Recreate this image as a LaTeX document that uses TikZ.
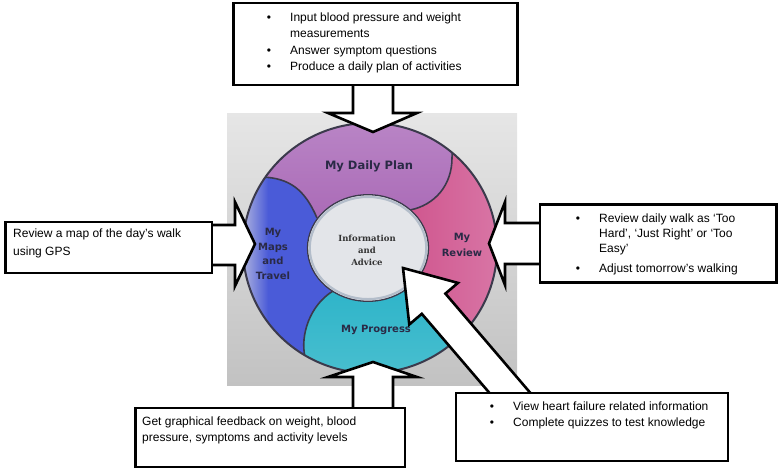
\documentclass[tikz,border=0pt]{standalone}
\usepackage{fontspec}
\setmainfont{Liberation Sans}
\newfontfamily\segfont{DejaVu Sans}
\newfontfamily\infofont{DejaVu Serif}
\usetikzlibrary{calc}
\definecolor{bgtop}{HTML}{E6E6E6}
\definecolor{bgbot}{HTML}{C2C2C2}
\definecolor{planT}{HTML}{BC8AC9}
\definecolor{planB}{HTML}{A663B2}
\definecolor{revL}{HTML}{CC4884}
\definecolor{revR}{HTML}{DC84B0}
\definecolor{progT}{HTML}{22AFC6}
\definecolor{progB}{HTML}{50C2D1}
\definecolor{mapsL}{HTML}{B4B8DE}
\definecolor{mapsR}{HTML}{4A5BD8}
\definecolor{segline}{HTML}{3B3A4C}
\definecolor{labcol}{HTML}{2A2A46}
\definecolor{infofill}{HTML}{E3E5E9}
\definecolor{inforim}{HTML}{B3BDCA}
\newcommand\mapsregion{(368,248) -- (317,218) .. controls (305,190) and (290,178) .. (262,177) -- (230,176) -- (200,176)
  -- (200,400) -- (307,400) -- (305,357) .. controls (300,335) and (310,305) .. (333,291) -- cycle}
\begin{document}
\begin{tikzpicture}[x=1pt,y=-1pt,
  box/.style={draw=black, fill=white, line width=2.8pt, inner sep=0pt, anchor=north west},
  txt/.style={font=\fontsize{12}{16}\selectfont, inner sep=0pt, anchor=base west},
  bul/.style={font=\fontsize{12}{16}\selectfont, inner sep=0pt, anchor=base},
  blockarrow/.style={draw=black, fill=white, line width=2.6pt, line join=miter},
  segborder/.style={draw=segline, line width=1.6pt},
  seglabel/.style={font=\segfont\bfseries\fontsize{10}{14.4}\selectfont, text=labcol, align=center, inner sep=0pt}]
\useasboundingbox (0,0) rectangle (778,467);

% background square
\fill[top color=bgtop, bottom color=bgbot] (227,113) rectangle (517,385);

% ring segments
\coordinate (c) at (370,248);
\coordinate (ic) at (368,248);
\begin{scope}
\clip (c) ellipse [x radius=127pt, y radius=125pt];
% Maps
\fill[mapsR] \mapsregion;
\begin{scope}
\clip \mapsregion;
\fill[left color=mapsL, right color=mapsR] (241,170) rectangle (268,370);
\end{scope}
% Daily plan
\fill[top color=planT, bottom color=planB]
  (ic) -- (317,218) .. controls (305,190) and (290,178) .. (262,177) -- (230,176) -- (200,100)
  -- (460,100) -- (453,130) -- (452,158) .. controls (452,185) and (435,205) .. (410,210) -- cycle;
% Review
\fill[left color=revL, right color=revR]
  (ic) -- (410,210) .. controls (435,205) and (452,185) .. (452,158) -- (453,130) -- (540,100)
  -- (540,400) -- (448,400) -- (450,345) .. controls (452,315) and (440,292) .. (415,282) -- cycle;
% Progress
\fill[top color=progT, bottom color=progB]
  (ic) -- (415,282) .. controls (440,292) and (452,315) .. (450,345) -- (448,400)
  -- (307,400) -- (305,357) .. controls (300,335) and (310,305) .. (333,291) -- cycle;
% borders between segments
\draw[segborder] (317,218) .. controls (305,190) and (290,178) .. (262,177) -- (230,176);
\draw[segborder] (410,210) .. controls (435,205) and (452,185) .. (452,158) -- (453,130);
\draw[segborder] (415,282) .. controls (440,292) and (452,315) .. (450,345) -- (448,400);
\draw[segborder] (333,291) .. controls (310,305) and (300,335) .. (305,357) -- (307,400);
\end{scope}
\draw[draw=segline, line width=2pt] (c) ellipse [x radius=127pt, y radius=125pt];

% centre
\filldraw[fill=infofill, draw=segline, line width=1.3pt] (ic) ellipse [x radius=60.5pt, y radius=53.3pt];
\draw[inforim, line width=2.2pt] (ic) ellipse [x radius=58.3pt, y radius=51.1pt];

% segment labels
\node[seglabel, font=\segfont\bfseries\fontsize{11.5}{14}\selectfont] (plan) at (369,166) {My Daily Plan};
\node[seglabel] (maps) at (273,254) {My\\Maps\\and\\Travel};
\node[seglabel, font=\segfont\bfseries\fontsize{10}{16}\selectfont] (review) at (462,245) {My\\Review};
\node[seglabel] (progress) at (376,330) {My Progress};
\node[seglabel, font=\infofont\bfseries\fontsize{8.5}{12.2}\selectfont, text=black!80] (info) at (367,250.5) {Information\\and\\Advice};

% block arrows
\draw[blockarrow] (353,70) -- (353,113) -- (328,113) -- (373,132) -- (417,113) -- (393,113) -- (393,70) -- cycle;
\draw[blockarrow] (190,225) -- (235,225) -- (235,202) -- (255,244) -- (235,286) -- (235,265) -- (190,265) -- cycle;
\draw[blockarrow] (555,223) -- (505,223) -- (505,202) -- (489,243.5) -- (505,285) -- (505,264) -- (555,264) -- cycle;
\draw[blockarrow] (353,420) -- (353,377) -- (328,377) -- (373,362) -- (417,377) -- (393,377) -- (393,420) -- cycle;
\draw[blockarrow] (403,268) -- (457.9,282.9) -- (445.4,293.6) -- (553.5,420) -- (512.6,420) -- (421.8,313.8) -- (409.3,324.5) -- cycle;

% boxes
\node[box, minimum width=284pt, minimum height=82pt] (topbox) at (232,1.5) {};
\node[box, minimum width=206.5pt, minimum height=51pt] (leftbox) at (4,220.5) {};
\node[box, minimum width=236.5pt, minimum height=78pt] (rightbox) at (538.5,203) {};
\node[box, minimum width=269.5pt, minimum height=59pt] (blbox) at (134,406.5) {};
\node[box, minimum width=272pt, minimum height=68pt] (brbox) at (454.5,391.5) {};

% top box text
\node[bul] (tb1) at (269,21) {\textbullet};
\node[txt] (tt1) at (290,21) {Input blood pressure and weight};
\node[txt] (tt1b) at (290,37) {measurements};
\node[bul] (tb2) at (269,54) {\textbullet};
\node[txt] (tt2) at (290,54) {Answer symptom questions};
\node[bul] (tb3) at (269,70) {\textbullet};
\node[txt] (tt3) at (290,70) {Produce a daily plan of activities};

% left box text
\node[txt] (lt1) at (13,237) {Review a map of the day’s walk};
\node[txt] (lt2) at (13,255) {using GPS};

% right box text
\node[bul] (rb1) at (578,222) {\textbullet};
\node[txt] (rt1) at (599,222) {Review daily walk as ‘Too};
\node[txt] (rt1b) at (599,237) {Hard’, ‘Just Right’ or ‘Too};
\node[txt] (rt1c) at (599,252) {Easy’};
\node[bul] (rb2) at (578,272) {\textbullet};
\node[txt] (rt2) at (599,272) {Adjust tomorrow’s walking};

% bottom-left box text
\node[txt] (bl1) at (142,425) {Get graphical feedback on weight, blood};
\node[txt] (bl2) at (142,441) {pressure, symptoms and activity levels};

% bottom-right box text
\node[bul] (brb1) at (492,410) {\textbullet};
\node[txt] (br1) at (513,410) {View heart failure related information};
\node[bul] (brb2) at (492,426) {\textbullet};
\node[txt] (br2) at (513,426) {Complete quizzes to test knowledge};
\end{tikzpicture}
\end{document}
